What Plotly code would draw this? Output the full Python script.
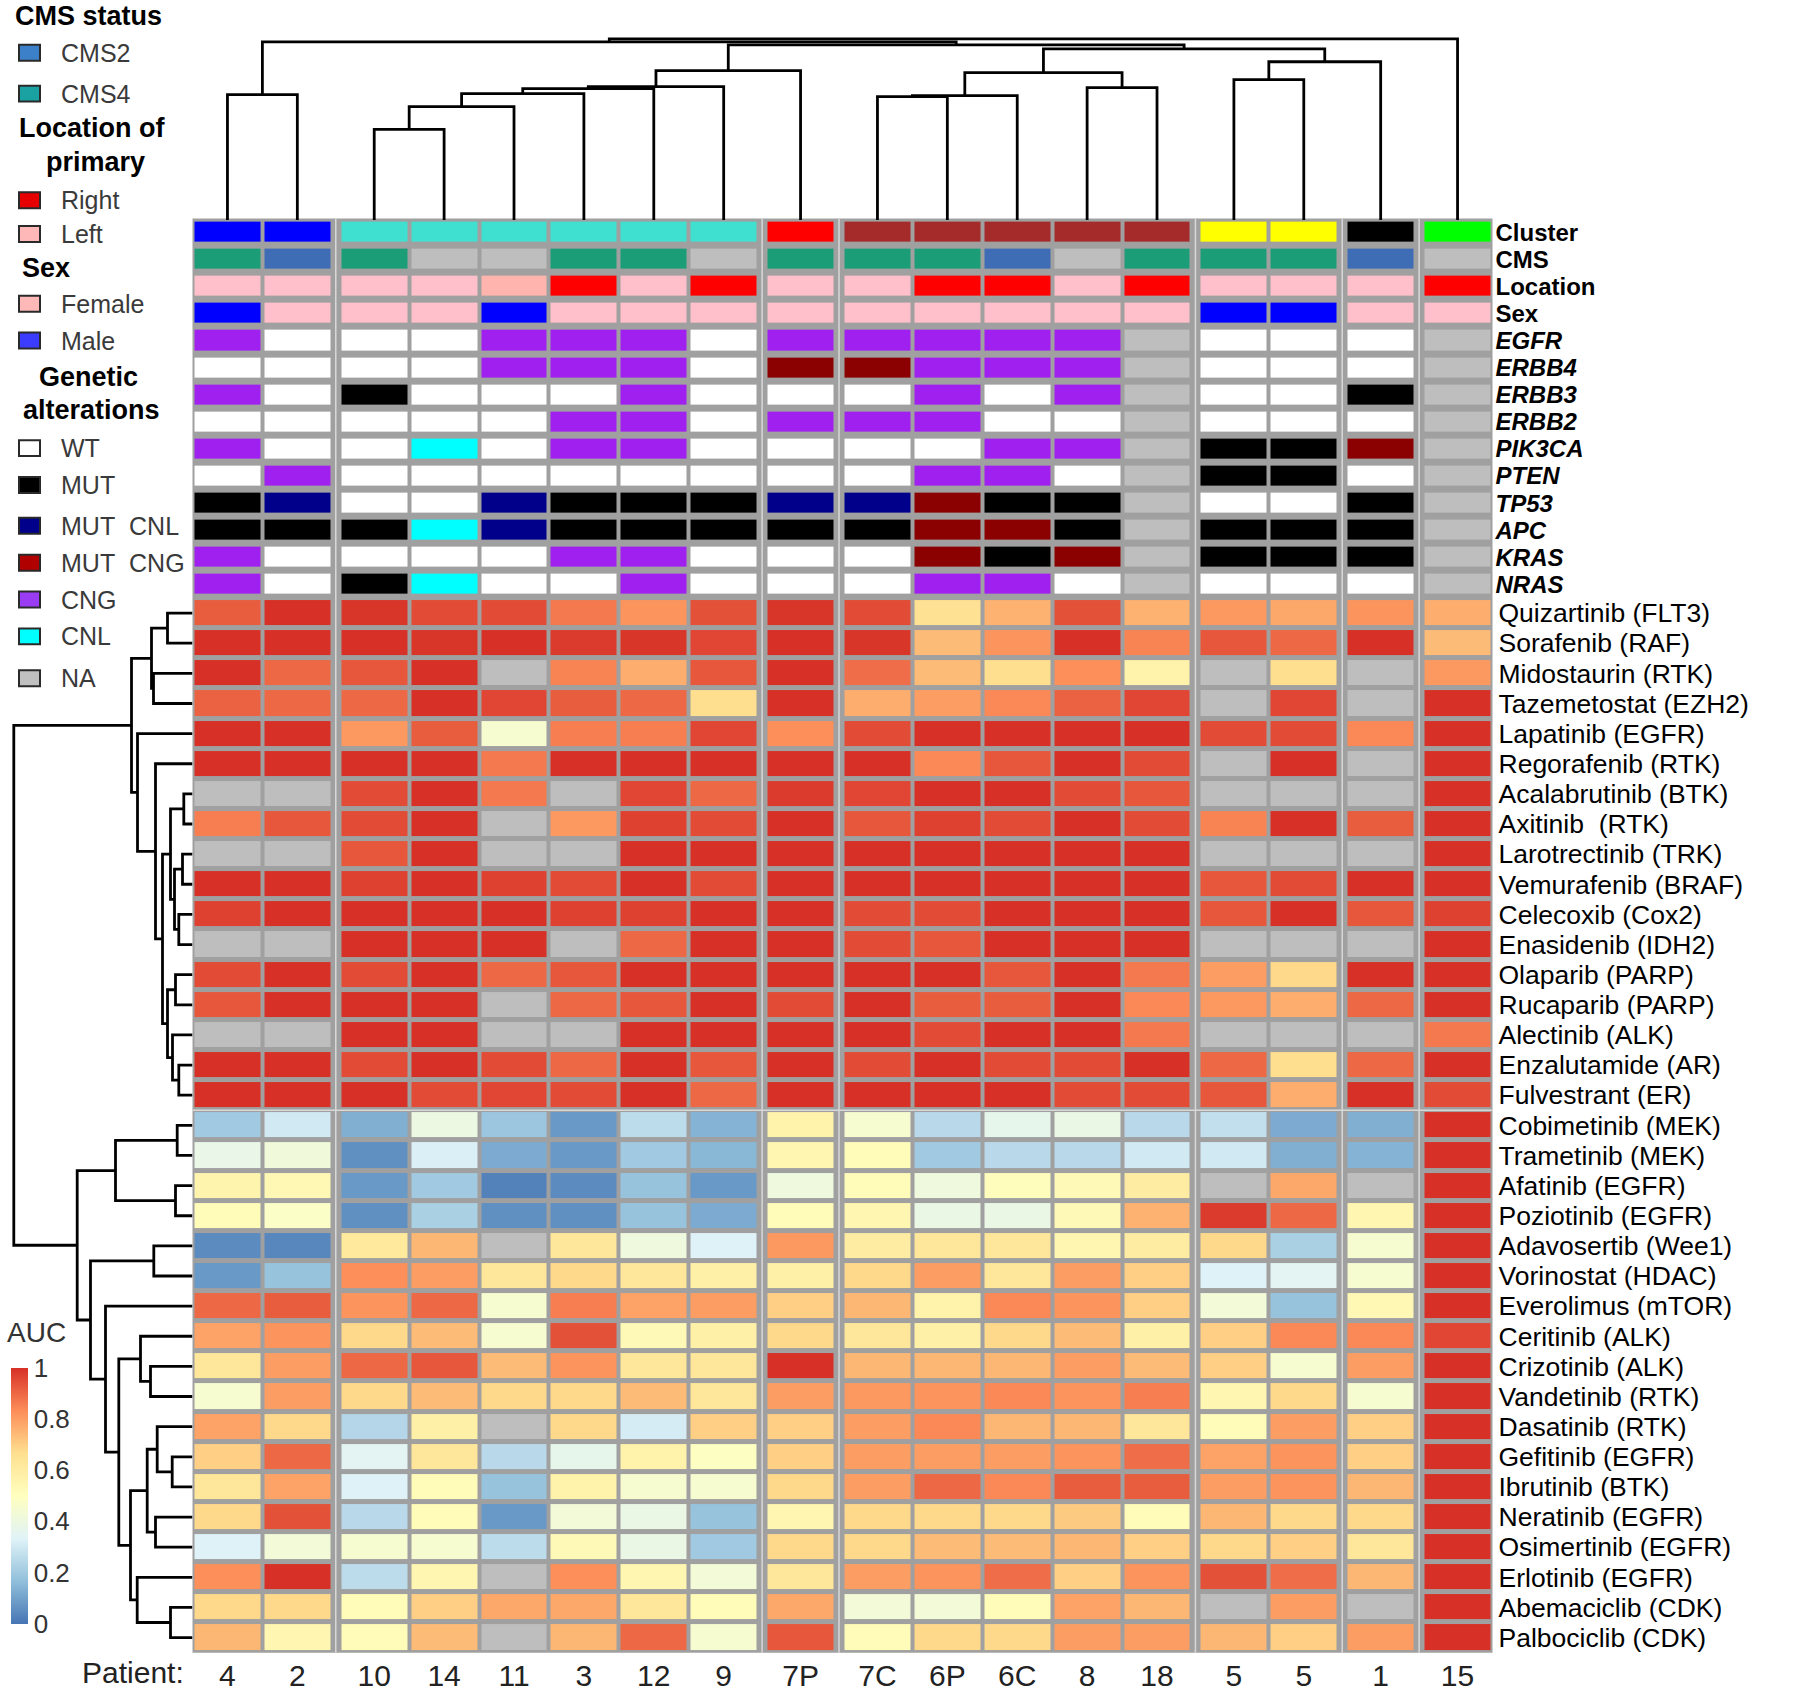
import plotly.graph_objects as go

W, H = 1800, 1692
FONT = "Liberation Sans, Arial, sans-serif"


def px(x):
    return x / W


def py(y):
    return 1 - y / H


# ---------------- data ----------------
patients = ["4", "2", "10", "14", "11", "3", "12", "9", "7P", "7C", "6P", "6C", "8", "18", "5", "5", "1", "15"]
cluster = [1, 1, 2, 2, 2, 2, 2, 2, 3, 4, 4, 4, 4, 4, 5, 5, 6, 7]
cms = ["CMS4", "CMS2", "CMS4", "NA", "NA", "CMS4", "CMS4", "NA", "CMS4", "CMS4", "CMS4", "CMS2", "NA", "CMS4", "CMS4", "CMS4", "CMS2", "NA"]
location = ["Left", "Left", "Left", "Left", "Left2", "Right", "Left", "Right", "Left", "Left", "Right", "Right", "Left", "Right", "Left", "Left", "Left", "Right"]
sex = ["Male", "Female", "Female", "Female", "Male", "Female", "Female", "Female", "Female", "Female", "Female", "Female", "Female", "Female", "Male", "Male", "Female", "Female"]
egfr = ["CNG", "WT", "WT", "WT", "CNG", "CNG", "CNG", "WT", "CNG", "CNG", "CNG", "CNG", "CNG", "NA", "WT", "WT", "WT", "NA"]
erbb4 = ["WT", "WT", "WT", "WT", "CNG", "CNG", "CNG", "WT", "MUT CNG", "MUT CNG", "CNG", "CNG", "CNG", "NA", "WT", "WT", "WT", "NA"]
erbb3 = ["CNG", "WT", "MUT", "WT", "WT", "WT", "CNG", "WT", "WT", "WT", "CNG", "WT", "CNG", "NA", "WT", "WT", "MUT", "NA"]
erbb2 = ["WT", "WT", "WT", "WT", "WT", "CNG", "CNG", "WT", "CNG", "CNG", "CNG", "WT", "WT", "NA", "WT", "WT", "WT", "NA"]
pik3ca = ["CNG", "WT", "WT", "CNL", "WT", "CNG", "CNG", "WT", "WT", "WT", "WT", "CNG", "CNG", "NA", "MUT", "MUT", "MUT CNG", "NA"]
pten = ["WT", "CNG", "WT", "WT", "WT", "WT", "WT", "WT", "WT", "WT", "CNG", "CNG", "WT", "NA", "MUT", "MUT", "WT", "NA"]
tp53 = ["MUT", "MUT CNL", "WT", "WT", "MUT CNL", "MUT", "MUT", "MUT", "MUT CNL", "MUT CNL", "MUT CNG", "MUT", "MUT", "NA", "WT", "WT", "MUT", "NA"]
apc = ["MUT", "MUT", "MUT", "CNL", "MUT CNL", "MUT", "MUT", "MUT", "MUT", "MUT", "MUT CNG", "MUT CNG", "MUT", "NA", "MUT", "MUT", "MUT", "NA"]
kras = ["CNG", "WT", "WT", "WT", "WT", "CNG", "CNG", "WT", "WT", "WT", "MUT CNG", "MUT", "MUT CNG", "NA", "MUT", "MUT", "MUT", "NA"]
nras = ["CNG", "WT", "MUT", "CNL", "WT", "WT", "CNG", "WT", "WT", "WT", "CNG", "CNG", "WT", "NA", "WT", "WT", "WT", "NA"]
genes = [("EGFR", egfr), ("ERBB4", erbb4), ("ERBB3", erbb3), ("ERBB2", erbb2), ("PIK3CA", pik3ca),
         ("PTEN", pten), ("TP53", tp53), ("APC", apc), ("KRAS", kras), ("NRAS", nras)]

drugs = ["Quizartinib (FLT3)", "Sorafenib (RAF)", "Midostaurin (RTK)", "Tazemetostat (EZH2)", "Lapatinib (EGFR)",
         "Regorafenib (RTK)", "Acalabrutinib (BTK)", "Axitinib  (RTK)", "Larotrectinib (TRK)", "Vemurafenib (BRAF)",
         "Celecoxib (Cox2)", "Enasidenib (IDH2)", "Olaparib (PARP)", "Rucaparib (PARP)", "Alectinib (ALK)",
         "Enzalutamide (AR)", "Fulvestrant (ER)", "Cobimetinib (MEK)", "Trametinib (MEK)", "Afatinib (EGFR)",
         "Poziotinib (EGFR)", "Adavosertib (Wee1)", "Vorinostat (HDAC)", "Everolimus (mTOR)", "Ceritinib (ALK)",
         "Crizotinib (ALK)", "Vandetinib (RTK)", "Dasatinib (RTK)", "Gefitinib (EGFR)", "Ibrutinib (BTK)",
         "Neratinib (EGFR)", "Osimertinib (EGFR)", "Erlotinib (EGFR)", "Abemaciclib (CDK)", "Palbociclib (CDK)"]

N = None
quizartinib = [0.92, 1.0, 0.99, 0.95, 0.95, 0.87, 0.82, 0.94, 0.99, 0.95, 0.66, 0.76, 0.94, 0.76, 0.81, 0.78, 0.82, 0.77]
sorafenib = [1.0, 1.0, 1.0, 0.99, 1.0, 0.98, 0.99, 0.96, 1.0, 0.99, 0.74, 0.82, 1.0, 0.85, 0.93, 0.9, 1.0, 0.74]
midostaurin = [1.0, 0.9, 0.93, 1.0, N, 0.85, 0.77, 0.93, 1.0, 0.89, 0.74, 0.67, 0.83, 0.57, N, 0.67, N, 0.81]
tazemetostat = [0.91, 0.9, 0.9, 1.0, 0.96, 0.92, 0.9, 0.67, 1.0, 0.77, 0.8, 0.84, 0.91, 0.96, N, 0.96, N, 1.0]
lapatinib = [1.0, 1.0, 0.81, 0.92, 0.45, 0.86, 0.86, 0.96, 0.83, 0.95, 1.0, 1.0, 1.0, 1.0, 0.95, 0.95, 0.84, 1.0]
regorafenib = [1.0, 1.0, 1.0, 1.0, 0.87, 1.0, 1.0, 1.0, 1.0, 1.0, 0.84, 0.93, 1.0, 0.95, N, 1.0, N, 1.0]
acalabrutinib = [N, N, 0.95, 1.0, 0.87, N, 0.96, 0.9, 0.98, 0.96, 1.0, 1.0, 0.95, 0.93, N, N, N, 1.0]
axitinib = [0.86, 0.93, 0.95, 1.0, N, 0.81, 0.97, 0.95, 1.0, 0.93, 0.97, 0.95, 1.0, 0.95, 0.85, 1.0, 0.92, 1.0]
larotrectinib = [N, N, 0.93, 1.0, N, N, 1.0, 1.0, 1.0, 1.0, 1.0, 1.0, 1.0, 1.0, N, N, N, 1.0]
vemurafenib = [1.0, 1.0, 0.97, 1.0, 0.97, 0.95, 1.0, 0.95, 1.0, 1.0, 1.0, 1.0, 1.0, 1.0, 0.93, 0.95, 1.0, 1.0]
celecoxib = [0.97, 1.0, 1.0, 1.0, 1.0, 0.97, 0.97, 1.0, 1.0, 0.95, 0.95, 1.0, 1.0, 1.0, 0.93, 1.0, 0.93, 0.97]
enasidenib = [N, N, 1.0, 1.0, 1.0, N, 0.9, 1.0, 1.0, 0.95, 0.93, 1.0, 1.0, 1.0, N, N, N, 1.0]
olaparib = [0.95, 1.0, 0.95, 1.0, 0.9, 0.93, 1.0, 1.0, 1.0, 1.0, 1.0, 0.93, 1.0, 0.87, 0.8, 0.68, 1.0, 1.0]
rucaparib = [0.93, 1.0, 1.0, 1.0, N, 0.9, 0.93, 1.0, 0.95, 1.0, 0.92, 0.92, 1.0, 0.84, 0.81, 0.77, 0.9, 1.0]
alectinib = [N, N, 1.0, 1.0, N, N, 1.0, 1.0, 1.0, 1.0, 0.95, 1.0, 1.0, 0.87, N, N, N, 0.87]
enzalutamide = [1.0, 1.0, 0.95, 1.0, 0.95, 0.9, 1.0, 0.93, 1.0, 0.95, 1.0, 0.95, 0.95, 1.0, 0.9, 0.67, 0.9, 1.0]
fulvestrant = [1.0, 1.0, 1.0, 0.95, 0.96, 0.95, 1.0, 0.9, 1.0, 1.0, 1.0, 1.0, 0.95, 0.95, 0.93, 0.77, 1.0, 0.95]
cobimetinib = [0.2, 0.3, 0.13, 0.4, 0.19, 0.08, 0.26, 0.14, 0.57, 0.45, 0.25, 0.37, 0.39, 0.25, 0.27, 0.12, 0.13, 1.0]
trametinib = [0.38, 0.42, 0.06, 0.32, 0.12, 0.08, 0.2, 0.15, 0.55, 0.52, 0.2, 0.25, 0.25, 0.3, 0.3, 0.13, 0.14, 1.0]
afatinib = [0.56, 0.54, 0.08, 0.2, 0.03, 0.05, 0.18, 0.08, 0.41, 0.52, 0.41, 0.51, 0.53, 0.6, N, 0.78, N, 1.0]
poziotinib = [0.52, 0.48, 0.06, 0.22, 0.06, 0.06, 0.18, 0.12, 0.52, 0.55, 0.39, 0.39, 0.53, 0.76, 0.98, 0.9, 0.55, 1.0]
adavosertib = [0.05, 0.04, 0.62, 0.75, N, 0.63, 0.41, 0.33, 0.81, 0.6, 0.63, 0.63, 0.55, 0.6, 0.68, 0.22, 0.45, 1.0]
vorinostat = [0.08, 0.18, 0.83, 0.8, 0.63, 0.68, 0.63, 0.58, 0.58, 0.68, 0.8, 0.63, 0.8, 0.7, 0.33, 0.35, 0.45, 1.0]
everolimus = [0.9, 0.92, 0.82, 0.9, 0.45, 0.86, 0.79, 0.8, 0.7, 0.75, 0.57, 0.84, 0.82, 0.7, 0.43, 0.18, 0.54, 1.0]
ceritinib = [0.79, 0.82, 0.68, 0.74, 0.45, 0.94, 0.53, 0.58, 0.68, 0.63, 0.58, 0.68, 0.74, 0.58, 0.7, 0.84, 0.84, 0.96]
crizotinib = [0.63, 0.8, 0.9, 0.93, 0.74, 0.82, 0.63, 0.63, 1.0, 0.75, 0.75, 0.75, 0.8, 0.74, 0.7, 0.45, 0.8, 1.0]
vandetinib = [0.45, 0.8, 0.68, 0.74, 0.68, 0.68, 0.74, 0.63, 0.8, 0.81, 0.82, 0.84, 0.82, 0.86, 0.55, 0.68, 0.45, 1.0]
dasatinib = [0.79, 0.68, 0.24, 0.58, N, 0.68, 0.31, 0.7, 0.7, 0.8, 0.84, 0.75, 0.75, 0.63, 0.52, 0.8, 0.7, 1.0]
gefitinib = [0.7, 0.9, 0.35, 0.63, 0.25, 0.37, 0.57, 0.49, 0.7, 0.8, 0.8, 0.8, 0.82, 0.89, 0.79, 0.82, 0.7, 1.0]
ibrutinib = [0.63, 0.79, 0.33, 0.52, 0.18, 0.57, 0.45, 0.45, 0.68, 0.8, 0.9, 0.84, 0.92, 0.92, 0.8, 0.82, 0.75, 1.0]
neratinib = [0.68, 0.94, 0.25, 0.52, 0.08, 0.43, 0.39, 0.18, 0.55, 0.68, 0.68, 0.68, 0.71, 0.52, 0.75, 0.68, 0.68, 1.0]
osimertinib = [0.33, 0.43, 0.45, 0.45, 0.26, 0.53, 0.39, 0.2, 0.68, 0.68, 0.74, 0.74, 0.75, 0.7, 0.68, 0.7, 0.63, 1.0]
erlotinib = [0.83, 1.0, 0.26, 0.55, N, 0.83, 0.55, 0.43, 0.63, 0.8, 0.82, 0.89, 0.7, 0.82, 0.94, 0.89, 0.75, 1.0]
abemaciclib = [0.68, 0.68, 0.52, 0.7, 0.78, 0.78, 0.63, 0.52, 0.78, 0.43, 0.43, 0.52, 0.79, 0.75, N, 0.8, N, 1.0]
palbociclib = [0.75, 0.55, 0.52, 0.74, N, 0.75, 0.9, 0.45, 0.93, 0.52, 0.68, 0.68, 0.8, 0.8, 0.75, 0.7, 0.8, 1.0]
auc_rows = [quizartinib, sorafenib, midostaurin, tazemetostat, lapatinib, regorafenib, acalabrutinib, axitinib,
            larotrectinib, vemurafenib, celecoxib, enasidenib, olaparib, rucaparib, alectinib, enzalutamide,
            fulvestrant, cobimetinib, trametinib, afatinib, poziotinib, adavosertib, vorinostat, everolimus,
            ceritinib, crizotinib, vandetinib, dasatinib, gefitinib, ibrutinib, neratinib, osimertinib, erlotinib,
            abemaciclib, palbociclib]

# column dendrogram: (child a, child b, merge height); leaves 0..17, new nodes 18..
col_merges = [(0, 1, 126), (2, 3, 91), (19, 4, 114), (20, 5, 127), (21, 6, 132), (22, 7, 134), (23, 8, 150),
              (9, 10, 124), (25, 11, 125), (12, 13, 133), (26, 27, 148), (14, 15, 141), (29, 16, 159),
              (28, 30, 172), (24, 31, 176), (18, 32, 179), (33, 17, 182)]
# row dendrogram: leaves 0..34, new nodes 35..
row_merges = [(0, 1, 25), (2, 3, 39), (35, 36, 41), (6, 7, 8.7), (8, 9, 10), (10, 11, 13.7), (39, 40, 18),
              (38, 41, 22), (12, 13, 17), (15, 16, 13.7), (14, 44, 20), (43, 45, 25), (42, 46, 30),
              (5, 47, 37), (4, 48, 55), (37, 49, 61), (17, 18, 15.3), (19, 20, 17), (51, 52, 77),
              (21, 22, 38.7), (25, 26, 42), (24, 55, 52), (28, 29, 20.3), (27, 57, 35.3), (30, 31, 37),
              (58, 59, 45.3), (33, 34, 22), (32, 61, 55.3), (60, 62, 62), (56, 63, 73.7), (23, 64, 87),
              (54, 65, 102), (53, 66, 115.3), (50, 67, 178.7)]

# ---------------- colours ----------------
cluster_colors = {1: "#0000FF", 2: "#40E0D0", 3: "#FF0000", 4: "#A52A2A", 5: "#FFFF00", 6: "#000000", 7: "#00FF00"}
cms_colors = {"CMS2": "#3E6DB5", "CMS4": "#1B9E77", "NA": "#BEBEBE"}
loc_colors = {"Right": "#FF0000", "Left": "#FFC0CB", "Left2": "#FFB5AE"}
sex_colors = {"Female": "#FFC0CB", "Male": "#0000FF"}
gen_colors = {"WT": "#FFFFFF", "MUT": "#000000", "MUT CNL": "#00008B", "MUT CNG": "#8B0000",
              "CNG": "#A020F0", "CNL": "#00FFFF", "NA": "#BEBEBE"}
auc_scale = [[0, "#4575B4"], [1 / 6, "#91BFDB"], [2 / 6, "#E0F3F8"], [3 / 6, "#FFFFBF"],
             [4 / 6, "#FEE090"], [5 / 6, "#FC8D59"], [1, "#D73027"]]
BORDER = "#A0A0A0"

# ---------------- geometry helpers ----------------
n = len(patients)
gap_u = 0.1
col_left = []
off = 0.0
for i in range(n):
    if i and cluster[i] != cluster[i - 1]:
        off += gap_u
    col_left.append(i + off)
centers = [c + 0.5 for c in col_left]
xe = [col_left[0]]
gap_mids = []
for i in range(n):
    if i and cluster[i] != cluster[i - 1]:
        xe.append(col_left[i])
        gap_mids.append((col_left[i - 1] + 1 + col_left[i]) / 2)
    xe.append(col_left[i] + 1)


def expand(row):
    out = []
    for i, v in enumerate(row):
        if i and cluster[i] != cluster[i - 1]:
            out.append(None)
        out.append(v)
    return out


def dendro(merges, leaf_pos):
    pos = list(leaf_pos)
    hgt = [0.0] * len(leaf_pos)
    a_s, h_s = [], []
    for a, b, h in merges:
        a_s += [pos[a], pos[a], pos[b], pos[b], None]
        h_s += [hgt[a], h, h, hgt[b], None]
        pos.append((pos[a] + pos[b]) / 2)
        hgt.append(h)
    return a_s, h_s


# ---------------- annotation matrix ----------------
ann_rows = [("<b>Cluster</b>", cluster, cluster_colors), ("<b>CMS</b>", cms, cms_colors),
            ("<b>Location</b>", location, loc_colors), ("<b>Sex</b>", sex, sex_colors)]
ann_rows += [("<b><i>%s</i></b>" % g, vals, gen_colors) for g, vals in genes]
palette = []
zann = []
for lab, vals, cmap in ann_rows:
    row = []
    for v in vals:
        c = cmap[v]
        if c not in palette:
            palette.append(c)
        row.append(palette.index(c))
    zann.append(expand(row))
K = len(palette)
dscale = []
for i, c in enumerate(palette):
    dscale += [[i / K, c], [(i + 1) / K, c]]

zauc = [expand(r) for r in auc_rows]
zna = [expand([1 if v is None else None for v in r]) for r in auc_rows]

fig = go.Figure()
fig.add_trace(go.Heatmap(z=zann, x=xe, y=list(range(len(ann_rows))), colorscale=dscale, zmin=-0.5,
                         zmax=K - 0.5, showscale=False, xgap=4, ygap=7, xaxis="x", yaxis="y2",
                         hoverinfo="skip"))
fig.add_trace(go.Heatmap(z=zna, x=xe, y=list(range(len(drugs))), colorscale=[[0, "#BEBEBE"], [1, "#BEBEBE"]],
                         showscale=False, xgap=4, ygap=5, xaxis="x", yaxis="y", hoverinfo="skip"))
fig.add_trace(go.Heatmap(
    z=zauc, x=xe, y=list(range(len(drugs))), colorscale=auc_scale, zmin=0, zmax=1, xgap=4, ygap=5,
    xaxis="x", yaxis="y", hoverinfo="skip",
    colorbar=dict(x=px(11), xanchor="left", y=py(1502), yanchor="middle", len=256, lenmode="pixels",
                  thickness=17, thicknessmode="pixels", outlinewidth=0, xpad=0, ypad=0,
                  tickvals=[0, 0.2, 0.4, 0.6, 0.8, 1], ticktext=["0", "0.2", "0.4", "0.6", "0.8", "1"],
                  ticks="", tickfont=dict(size=26, color="#333333", family=FONT))))

# dendrograms
cx, ch = dendro(col_merges, centers)
fig.add_trace(go.Scatter(x=cx, y=ch, mode="lines", line=dict(color="black", width=2.8),
                         xaxis="x", yaxis="y4", hoverinfo="skip", showlegend=False))
ry, rd = dendro(row_merges, list(range(len(drugs))))
fig.add_trace(go.Scatter(x=rd, y=ry, mode="lines", line=dict(color="black", width=2.8),
                         xaxis="x3", yaxis="y", hoverinfo="skip", showlegend=False))

noax = dict(showgrid=False, zeroline=False, showline=False, fixedrange=True)
fig.update_layout(
    width=W, height=H, margin=dict(l=0, r=0, t=0, b=0, pad=0), paper_bgcolor="white",
    plot_bgcolor="rgba(0,0,0,0)", showlegend=False, font=dict(family=FONT, color="black"),
    xaxis=dict(domain=[px(192.5), px(1492.5)], range=[0, xe[-1]], tickmode="array", tickvals=centers,
               ticktext=patients, ticks="", tickfont=dict(size=30, color="#222"), anchor="y",
               ticklabelstandoff=2, **noax),
    yaxis=dict(domain=[py(1659.5), py(600.5)], range=[len(drugs) - 0.5, -0.5], tickmode="array",
               tickvals=list(range(len(drugs))), ticktext=drugs, side="right", ticks="",
               tickfont=dict(size=26.5, color="black"), anchor="x", ticklabelstandoff=5, **noax),
    yaxis2=dict(domain=[py(600.5), py(219.5)], range=[len(ann_rows) - 0.5, -0.5], tickmode="array",
                tickvals=list(range(len(ann_rows))), ticktext=[r[0] for r in ann_rows], side="right",
                ticks="", tickfont=dict(size=24, color="black"), anchor="x", ticklabelstandoff=2, **noax),
    xaxis3=dict(domain=[0, px(192.5)], range=[192.5, 0], visible=False, anchor="y", **noax),
    yaxis4=dict(domain=[py(221), py(20)], range=[0, 201], visible=False, anchor="x", **noax),
)

shapes = []
for yr in ["y", "y2"]:
    shapes.append(dict(type="rect", xref="x domain", yref=yr + " domain", x0=0, x1=1, y0=0, y1=1,
                       fillcolor=BORDER, line=dict(width=0), layer="below"))
for xm in gap_mids:
    shapes.append(dict(type="line", xref="x", yref="paper", x0=xm, x1=xm, y0=py(1659.5), y1=py(219.5),
                       line=dict(color="#D8D8D8", width=1.5), layer="above"))
shapes.append(dict(type="line", xref="x domain", yref="y", x0=0, x1=1, y0=16.5, y1=16.5,
                   line=dict(color="#D8D8D8", width=1.5), layer="above"))

# legend (text + swatches)
annotations = []
legend_titles = [("CMS status", 13, 16, "left"), ("Location of", 92, 129, "center"),
                 ("primary", 95, 163, "center"), ("Sex", 20, 269, "left"),
                 ("Genetic", 88, 379, "center"), ("alterations", 91, 412, "center")]
for t, x, y, al in legend_titles:
    annotations.append(dict(text="<b>%s</b>" % t, x=px(x), y=py(y), xref="paper", yref="paper",
                            xanchor=al, yanchor="middle", showarrow=False,
                            font=dict(size=27, color="black", family=FONT)))
legend_items = [("CMS2", "#3B80C8", 53), ("CMS4", "#1AA2A2", 94), ("Right", "#E60000", 201),
                ("Left", "#FFB8B8", 235), ("Female", "#FFB8B8", 305), ("Male", "#3C3CFF", 342),
                ("WT", "#FFFFFF", 450), ("MUT", "#000000", 487), ("MUT CNL", "#00008B", 528),
                ("MUT CNG", "#B00000", 565), ("CNG", "#9B3CF5", 602), ("CNL", "#00FFFF", 639),
                ("NA", "#C0C0C0", 681)]
for t, c, y in legend_items:
    shapes.append(dict(type="rect", xref="paper", yref="paper", x0=px(19), x1=px(40), y0=py(y + 8),
                       y1=py(y - 8), fillcolor=c, line=dict(color="#2A2A2A", width=2)))
    annotations.append(dict(text=t.replace(" ", "&nbsp;&nbsp;"), x=px(59), y=py(y), xref="paper",
                            yref="paper", xanchor="left", yanchor="middle", showarrow=False,
                            font=dict(size=25, color="#3A3A3A", family=FONT)))
annotations.append(dict(text="AUC", x=px(5), y=py(1338), xref="paper", yref="paper", xanchor="left",
                        yanchor="middle", showarrow=False, font=dict(size=28, color="#333333", family=FONT)))
annotations.append(dict(text="Patient:", x=px(186), y=py(1679), xref="paper", yref="paper", xanchor="right",
                        yanchor="middle", showarrow=False, font=dict(size=30, color="#222", family=FONT)))
fig.update_layout(shapes=shapes, annotations=annotations)

fig.write_html("out.html", config={"displayModeBar": False},
               post_script="document.body.style.margin='0';document.body.style.overflow='hidden';")
